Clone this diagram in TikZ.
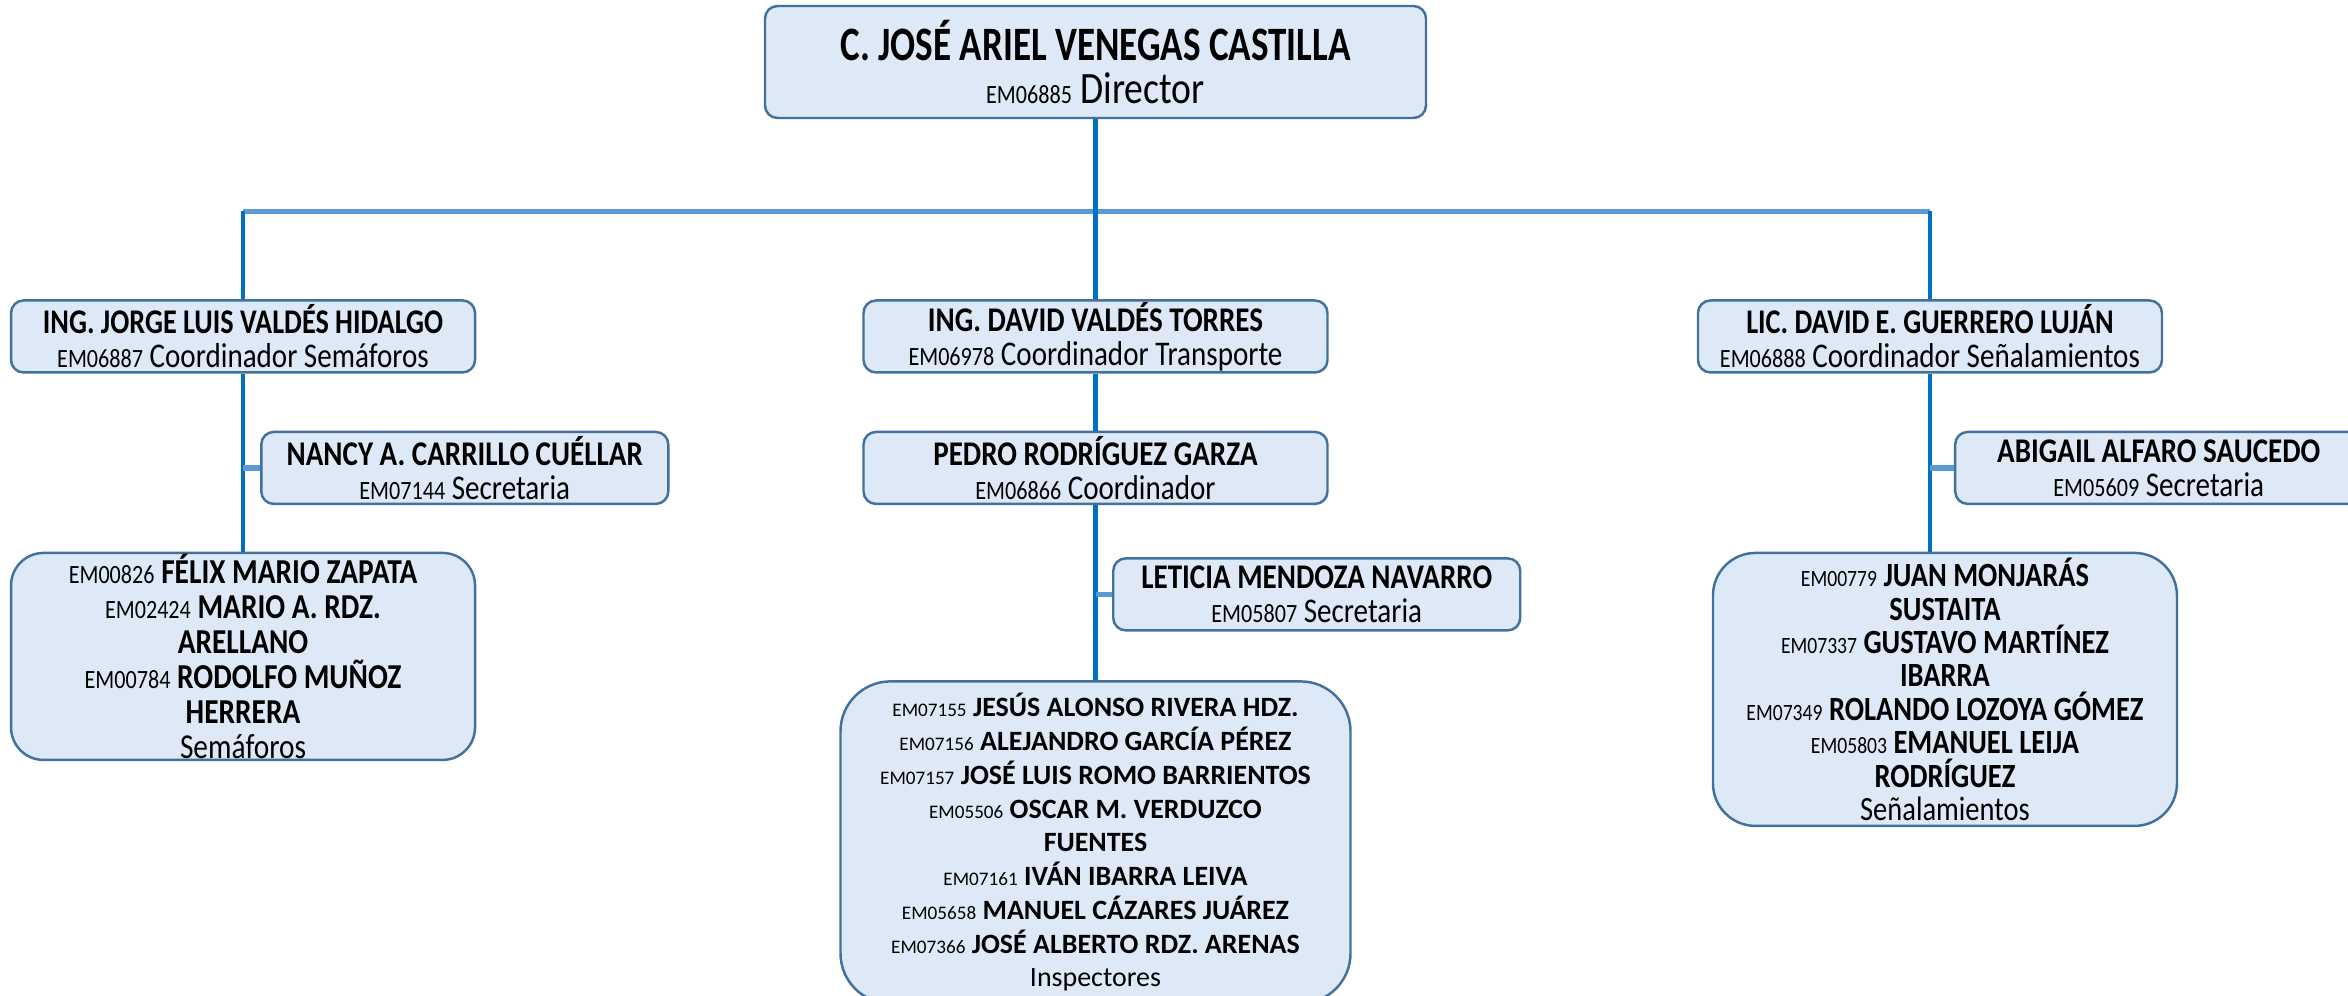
\documentclass[tikz,border=0pt]{standalone}
\usepackage{fontspec}
\usepackage{graphicx}
\setmainfont{Carlito}
\newfontfamily\narrowfont[FakeStretch=0.84]{Carlito}
\usetikzlibrary{positioning}
\definecolor{boxfill}{RGB}{221,233,246}
\definecolor{boxline}{RGB}{65,113,156}
\definecolor{trunkblue}{RGB}{0,112,192}
\definecolor{busblue}{RGB}{91,155,213}
\newcommand{\idno}[2][15]{{\fontsize{#1}{#1}\selectfont #2}}
\newcommand{\nm}[2][1]{\scalebox{#1}[1]{\bfseries #2}}

\begin{document}
\begin{tikzpicture} [node distance = 1cm and 1cm,
    box/.style={draw=boxline, line width=1.4pt, fill=boxfill, rounded corners=0.25cm, align=flush center, inner xsep=0pt, inner ysep=0pt, text width=9.28cm, minimum height=1.44cm, font=\narrowfont\fontsize{19.7}{19.35}\selectfont},
    crew/.style={box, rounded corners=0.65cm},
    trunk/.style={draw=trunkblue, line width=2.7pt},
    bus/.style={draw=busblue, line width=2.6pt},
    side/.style={draw=busblue, line width=3pt}]
        \useasboundingbox (0,0) rectangle (46.96,-19.92);
        % Nodes
        \node[box, text width=13.22cm, minimum height=2.24cm, font=\narrowfont\fontsize{25.5}{24.5}\selectfont] (director) at (21.91,-1.24) {\nm[0.92]{\fontsize{27.3}{24.5}\selectfont C. JOSÉ ARIEL VENEGAS CASTILLA}\\ \idno{EM06885} Director};
        \node[box, below=3.6cm of director] (david) {\nm{ING. DAVID VALDÉS TORRES}\\ \idno{EM06978} Coordinador Transporte};
        \node[box, left=7.72cm of david] (jorge) {\nm[0.97]{ING. JORGE LUIS VALDÉS HIDALGO}\\ \idno{EM06887} Coordinador Semáforos};
        \node[box, right=7.36cm of david] (guerrero) {\nm[0.97]{LIC. DAVID E. GUERRERO LUJÁN}\\ \idno{EM06888} Coordinador Señalamientos};
        \node[box, text width=8.14cm, below right=1.14cm and 0.34cm of jorge.south] (nancy) {\nm{NANCY A. CARRILLO CUÉLLAR}\\ \idno{EM07144} Secretaria};
        \node[box, below=1.14cm of david] (pedro) {\nm{PEDRO RODRÍGUEZ GARZA}\\ \idno{EM06866} Coordinador};
        \node[box, text width=8.14cm, below right=1.04cm and 0.33cm of pedro.south] (leticia) {\nm{LETICIA MENDOZA NAVARRO}\\ \idno{EM05807} Secretaria};
        \node[box, text width=8.14cm, below right=1.14cm and 0.48cm of guerrero.south] (abigail) {\nm{ABIGAIL ALFARO SAUCEDO}\\ \idno{EM05609} Secretaria};
        \node[crew, minimum height=4.14cm, below=3.56cm of jorge, font=\narrowfont\fontsize{19.9}{19.9}\selectfont] (semaforos) {\idno{EM00826} \nm{FÉLIX MARIO ZAPATA}\\ \idno{EM02424} \nm{MARIO A. RDZ.}\\ \nm{ARELLANO}\\ \idno{EM00784} \nm{RODOLFO MUÑOZ}\\ \nm{HERRERA}\\ Semáforos};
        \node[crew, rounded corners=1cm, text width=10.2cm, minimum height=6.44cm, below=3.5cm of pedro, font=\fontsize{15.9}{19.2}\selectfont] (inspectores) {\idno[10.9]{EM07155} \nm{JESÚS ALONSO RIVERA HDZ.}\\ \idno[10.9]{EM07156} \nm{ALEJANDRO GARCÍA PÉREZ}\\ \idno[10.9]{EM07157} \nm{JOSÉ LUIS ROMO BARRIENTOS}\\ \idno[10.9]{EM05506} \nm{OSCAR M. VERDUZCO}\\ \nm{FUENTES}\\ \idno[10.9]{EM07161} \nm{IVÁN IBARRA LEIVA}\\ \idno[10.9]{EM05658} \nm{MANUEL CÁZARES JUÁREZ}\\ \idno[10.9]{EM07366} \nm{JOSÉ ALBERTO RDZ. ARENAS}\\ Inspectores};
        \node[crew, rounded corners=0.85cm, minimum height=5.46cm, below=3.56cm of guerrero, xshift=0.3cm, font=\narrowfont\fontsize{19.3}{19}\selectfont] (senal) {\idno[13.3]{EM00779} \nm{JUAN MONJARÁS}\\ \nm{SUSTAITA}\\ \idno[13.3]{EM07337} \nm{GUSTAVO MARTÍNEZ}\\ \nm{IBARRA}\\ \idno[13.3]{EM07349} \nm{ROLANDO LOZOYA GÓMEZ}\\ \idno[13.3]{EM05803} \nm{EMANUEL LEIJA}\\ \nm{RODRÍGUEZ}\\ Señalamientos};
        \coordinate[below=1.84cm of director.south] (bus);

        % Connectors
        \draw[bus] (jorge |- bus) -- (guerrero |- bus);
        \draw[trunk] (director) -- (david);
        \draw[trunk] (jorge |- bus) -- (jorge);
        \draw[trunk] (guerrero |- bus) -- (guerrero);
        \draw[trunk] (jorge) -- (semaforos);
        \draw[trunk] (david) -- (pedro);
        \draw[trunk] (pedro) -- (inspectores);
        \draw[trunk] (guerrero.south) -- (guerrero.south |- senal.north);
        \draw[side] (nancy.west) -- (nancy.west -| jorge.south);
        \draw[side] (leticia.west) -- (leticia.west -| pedro.south);
        \draw[side] (abigail.west) -- (abigail.west -| guerrero.south);
    \end{tikzpicture}
\end{document}
